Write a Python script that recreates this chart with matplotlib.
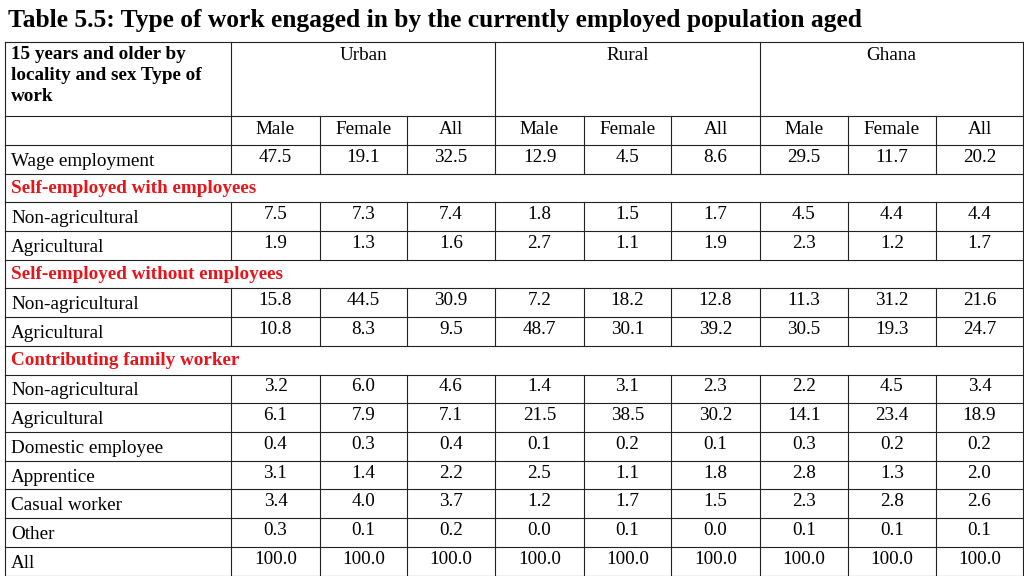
import matplotlib.pyplot as plt

plt.rcParams['font.family'] = ['Liberation Serif', 'DejaVu Serif']

title = "Table 5.5: Type of work engaged in by the currently employed population aged"
groups = ["Urban", "Rural", "Ghana"]
subcols = ["Male", "Female", "All"]

# (label, values or None for a red section heading)
rows = [
    ("Wage employment", [47.5, 19.1, 32.5, 12.9, 4.5, 8.6, 29.5, 11.7, 20.2]),
    ("Self-employed with employees", None),
    ("Non-agricultural", [7.5, 7.3, 7.4, 1.8, 1.5, 1.7, 4.5, 4.4, 4.4]),
    ("Agricultural", [1.9, 1.3, 1.6, 2.7, 1.1, 1.9, 2.3, 1.2, 1.7]),
    ("Self-employed without employees", None),
    ("Non-agricultural", [15.8, 44.5, 30.9, 7.2, 18.2, 12.8, 11.3, 31.2, 21.6]),
    ("Agricultural", [10.8, 8.3, 9.5, 48.7, 30.1, 39.2, 30.5, 19.3, 24.7]),
    ("Contributing family worker", None),
    ("Non-agricultural", [3.2, 6.0, 4.6, 1.4, 3.1, 2.3, 2.2, 4.5, 3.4]),
    ("Agricultural", [6.1, 7.9, 7.1, 21.5, 38.5, 30.2, 14.1, 23.4, 18.9]),
    ("Domestic employee", [0.4, 0.3, 0.4, 0.1, 0.2, 0.1, 0.3, 0.2, 0.2]),
    ("Apprentice", [3.1, 1.4, 2.2, 2.5, 1.1, 1.8, 2.8, 1.3, 2.0]),
    ("Casual worker", [3.4, 4.0, 3.7, 1.2, 1.7, 1.5, 2.3, 2.8, 2.6]),
    ("Other", [0.3, 0.1, 0.2, 0.0, 0.1, 0.0, 0.1, 0.1, 0.1]),
    ("All", [100.0] * 9),
]

# geometry in pixels
xs = [5, 231, 320, 407, 495, 584, 671, 760, 848, 936, 1023]
y_top, y_h1, y_h2 = 42, 116, 145
row_h = 28.7

fig = plt.figure(figsize=(10.24, 5.76), dpi=100)
ax = fig.add_axes([0, 0, 1, 1])
ax.set_xlim(0, 1024)
ax.set_ylim(576, 0)
ax.axis('off')

lw = 0.8
lc = '#222222'
fs = 13.8
ax.text(8, 21, title, fontsize=18.4, fontweight='bold', va='center', ha='left')

# header
ax.text(11, 56, "15 years and older by\nlocality and sex Type of\nwork", fontsize=fs,
        fontweight='bold', va='center', ha='left', linespacing=1.3)
ax.texts[-1].set_va('top')
ax.texts[-1].set_y(46)
for g, name in enumerate(groups):
    cx = (xs[1 + 3 * g] + xs[4 + 3 * g]) / 2
    ax.text(cx, 55, name, fontsize=fs, ha='center', va='center')
    for k, s in enumerate(subcols):
        c = 1 + 3 * g + k
        ax.text((xs[c] + xs[c + 1]) / 2, 129, s, fontsize=fs, ha='center', va='center')

ax.plot([xs[0], xs[-1]], [y_top, y_top], color=lc, lw=lw)
ax.plot([xs[0], xs[-1]], [y_h1, y_h1], color=lc, lw=lw)
for x in [xs[0], xs[1], xs[4], xs[7], xs[-1]]:
    ax.plot([x, x], [y_top, y_h1], color=lc, lw=lw)
for x in xs:
    ax.plot([x, x], [y_h1, y_h2], color=lc, lw=lw)

y = y_h2
ax.plot([xs[0], xs[-1]], [y, y], color=lc, lw=lw)
for label, vals in rows:
    y2 = y + row_h
    if vals is None:
        ax.text(11, y + row_h / 2, label, fontsize=fs, fontweight='bold', color='#e8141a',
                ha='left', va='center')
        for x in [xs[0], xs[-1]]:
            ax.plot([x, x], [y, y2], color=lc, lw=lw)
    else:
        ax.text(11, y + row_h / 2 + 2, label, fontsize=fs, ha='left', va='center')
        for c, v in enumerate(vals):
            ax.text((xs[c + 1] + xs[c + 2]) / 2, y + row_h / 2 - 2, f"{v:.1f}",
                    fontsize=fs, ha='center', va='center')
        for x in xs:
            ax.plot([x, x], [y, y2], color=lc, lw=lw)
    ax.plot([xs[0], xs[-1]], [y2, y2], color=lc, lw=lw)
    y = y2

fig.savefig('out.png', dpi=100)
